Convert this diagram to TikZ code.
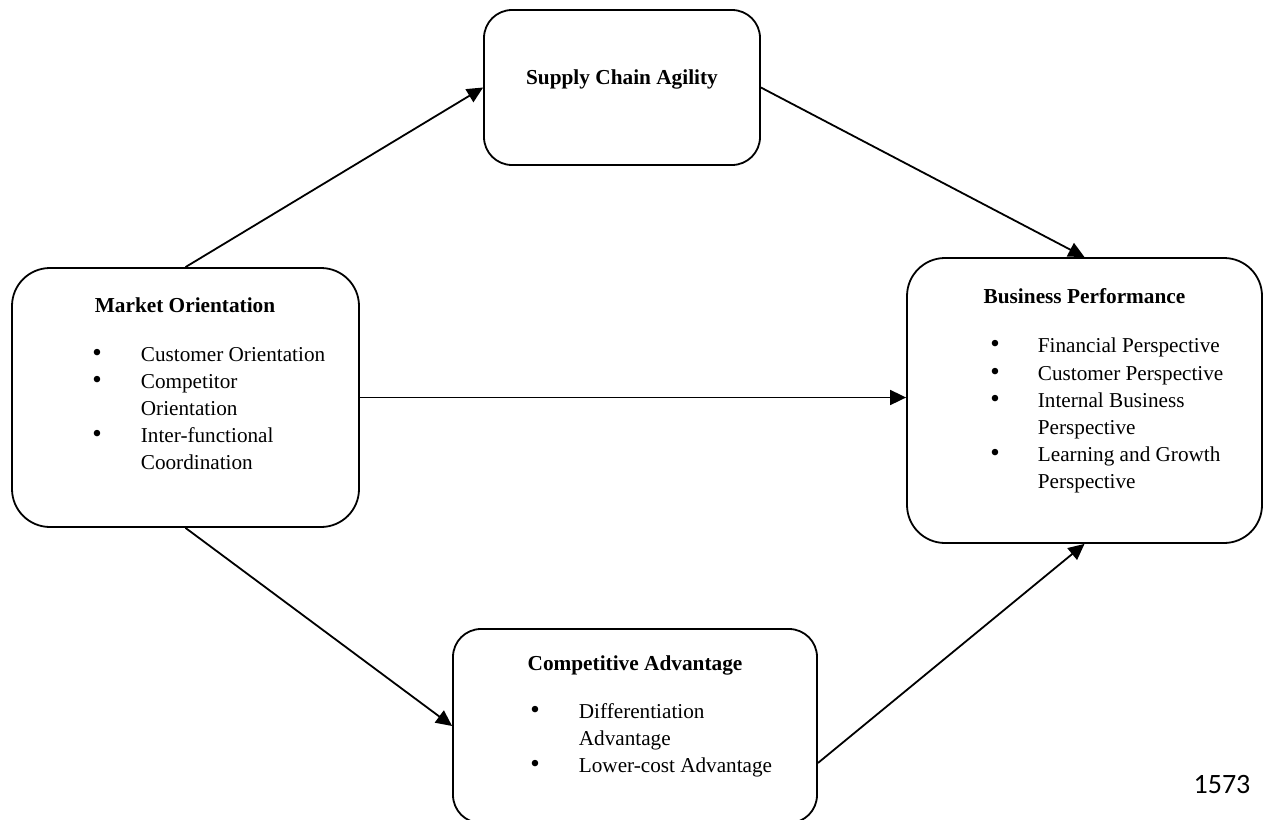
\documentclass[tikz,border=0pt]{standalone}
\usepackage{fontspec}
\setmainfont{Liberation Serif}
\newfontfamily\pagenofont{Carlito}
\usetikzlibrary{arrows.meta,calc}

\begin{document}
\begin{tikzpicture}[x=1pt,y=-1pt,line width=1.8pt,
  >={Triangle[length=16pt,width=15pt]},
  box/.style={draw,rounded corners=#1,inner sep=0pt},
  box/.default=28pt,
  heading/.style={font=\bfseries\fontsize{21.3}{27}\selectfont,inner sep=0pt,anchor=base},
  bul/.style={font=\fontsize{27}{27}\selectfont,inner sep=0pt,anchor=center},
  entry/.style={font=\fontsize{21.2}{27}\selectfont,inner sep=0pt,anchor=base west}]
\useasboundingbox (0,0) rectangle (1263,819);
% boxes
\node[box,minimum width=276pt,minimum height=155pt] (sca) at (622,87.5) {};
\node[box=38pt,minimum width=347pt,minimum height=259pt] (mo) at (185.5,397.5) {};
\node[box=38pt,minimum width=355pt,minimum height=285pt] (bp) at (1084.5,400.5) {};
\node[box,minimum width=364pt,minimum height=194pt] (ca) at (635,726) {};
% supply chain agility
\node[heading] (scaT) at (622,84) {Supply Chain Agility};
% market orientation
\node[heading] (moT) at (185,312) {Market Orientation};
\node[bul] (moB1) at (97,355.5) {\textbullet};
\node[bul] (moB2) at (97,382.5) {\textbullet};
\node[bul] (moB3) at (97,436.5) {\textbullet};
\node[entry] (mo1) at (140,361) {Customer Orientation};
\node[entry] (mo2) at (140,388) {Competitor};
\node[entry] (mo3) at (140,415) {Orientation};
\node[entry] (mo4) at (140,442) {Inter-functional};
\node[entry] (mo5) at (140,469) {Coordination};
% business performance
\node[heading] (bpT) at (1084.5,303) {Business Performance};
\node[bul] (bpB1) at (995,346.5) {\textbullet};
\node[bul] (bpB2) at (995,374.5) {\textbullet};
\node[bul] (bpB3) at (995,401.5) {\textbullet};
\node[bul] (bpB4) at (995,455.5) {\textbullet};
\node[entry] (bp1) at (1037,352) {Financial Perspective};
\node[entry] (bp2) at (1037,380) {Customer Perspective};
\node[entry] (bp3) at (1037,407) {Internal Business};
\node[entry] (bp4) at (1037,434) {Perspective};
\node[entry] (bp5) at (1037,461) {Learning and Growth};
\node[entry] (bp6) at (1037,488) {Perspective};
% competitive advantage
\node[heading] (caT) at (635,670) {Competitive Advantage};
\node[bul] (caB1) at (535,712.5) {\textbullet};
\node[bul] (caB2) at (535,766.5) {\textbullet};
\node[entry] (ca1) at (578,718) {Differentiation};
\node[entry] (ca2) at (578,745) {Advantage};
\node[entry] (ca3) at (578,772) {Lower-cost Advantage};
% page number
\node[font=\pagenofont\fontsize{28}{34}\selectfont] (pg) at (1222,784) {1573};
% arrows
\draw[->] (mo.north) -- (sca.west);
\draw[->] (sca.east) -- (bp.north);
\draw[->] (mo.east) -- (mo.east -| bp.west);
\draw[->] (mo.south) -- (ca.west);
\draw[->] ([yshift=-37pt]ca.east) -- (bp.south);
\end{tikzpicture}
\end{document}
